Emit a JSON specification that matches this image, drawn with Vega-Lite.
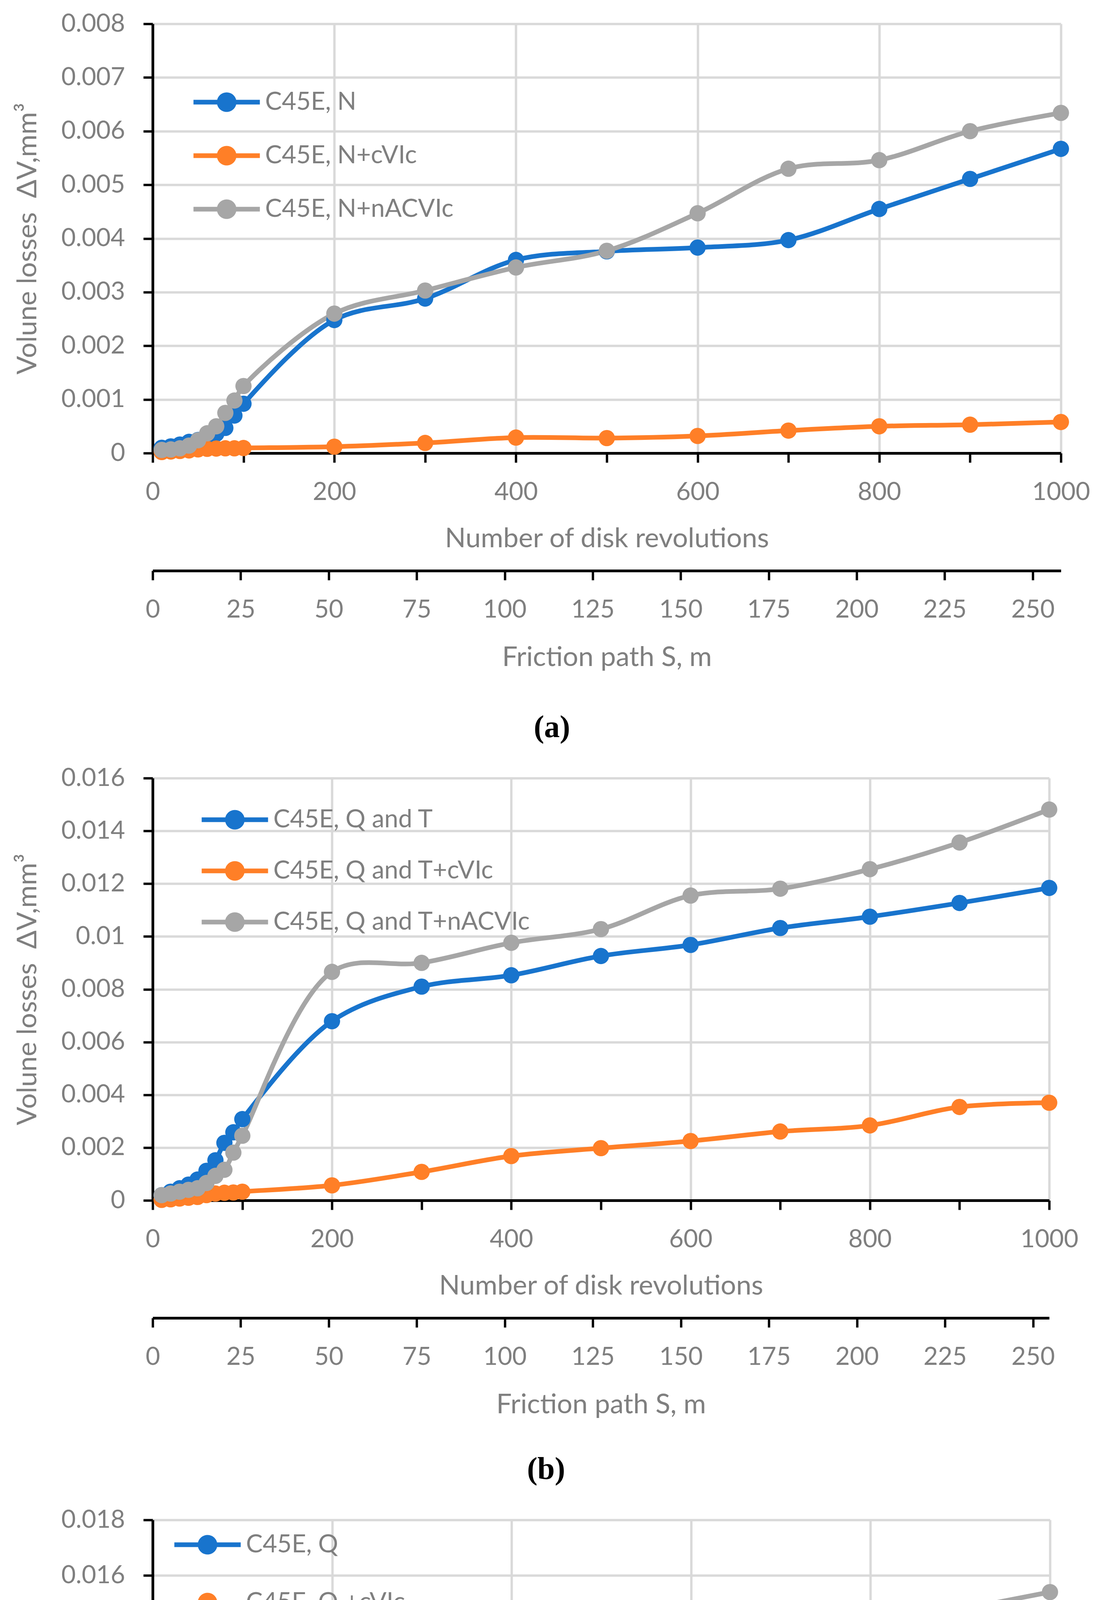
{
  "$schema": "https://vega.github.io/schema/vega-lite/v6.json",
  "background": "white",
  "padding": {"left": 36, "top": 29, "right": 0, "bottom": 0},
  "spacing": 57,
  "datasets": {
    "a": [
      {"n": 10, "v": 0.0001, "s": "C45E, N"}, {"n": 20, "v": 0.000125, "s": "C45E, N"}, {"n": 30, "v": 0.00016, "s": "C45E, N"}, {"n": 40, "v": 0.00021, "s": "C45E, N"}, {"n": 50, "v": 0.000245, "s": "C45E, N"}, {"n": 60, "v": 0.00029, "s": "C45E, N"}, {"n": 70, "v": 0.00036, "s": "C45E, N"}, {"n": 80, "v": 0.00047, "s": "C45E, N"}, {"n": 90, "v": 0.0007, "s": "C45E, N"}, {"n": 100, "v": 0.00092, "s": "C45E, N"}, {"n": 200, "v": 0.00248, "s": "C45E, N"}, {"n": 300, "v": 0.00288, "s": "C45E, N"}, {"n": 400, "v": 0.0036, "s": "C45E, N"}, {"n": 500, "v": 0.00376, "s": "C45E, N"}, {"n": 600, "v": 0.00383, "s": "C45E, N"}, {"n": 700, "v": 0.00397, "s": "C45E, N"}, {"n": 800, "v": 0.00455, "s": "C45E, N"}, {"n": 900, "v": 0.00511, "s": "C45E, N"}, {"n": 1000, "v": 0.00567, "s": "C45E, N"},
      {"n": 10, "v": 0.00002, "s": "C45E, N+cVIc"}, {"n": 20, "v": 0.00003, "s": "C45E, N+cVIc"}, {"n": 30, "v": 0.00004, "s": "C45E, N+cVIc"}, {"n": 40, "v": 0.00005, "s": "C45E, N+cVIc"}, {"n": 50, "v": 0.00007, "s": "C45E, N+cVIc"}, {"n": 60, "v": 0.00008, "s": "C45E, N+cVIc"}, {"n": 70, "v": 0.000085, "s": "C45E, N+cVIc"}, {"n": 80, "v": 0.00009, "s": "C45E, N+cVIc"}, {"n": 90, "v": 0.00009, "s": "C45E, N+cVIc"}, {"n": 100, "v": 0.000095, "s": "C45E, N+cVIc"}, {"n": 200, "v": 0.00012, "s": "C45E, N+cVIc"}, {"n": 300, "v": 0.00019, "s": "C45E, N+cVIc"}, {"n": 400, "v": 0.00029, "s": "C45E, N+cVIc"}, {"n": 500, "v": 0.00028, "s": "C45E, N+cVIc"}, {"n": 600, "v": 0.00032, "s": "C45E, N+cVIc"}, {"n": 700, "v": 0.00042, "s": "C45E, N+cVIc"}, {"n": 800, "v": 0.0005, "s": "C45E, N+cVIc"}, {"n": 900, "v": 0.00053, "s": "C45E, N+cVIc"}, {"n": 1000, "v": 0.00058, "s": "C45E, N+cVIc"},
      {"n": 10, "v": 0.00006, "s": "C45E, N+nACVIc"}, {"n": 20, "v": 0.00007, "s": "C45E, N+nACVIc"}, {"n": 30, "v": 0.00009, "s": "C45E, N+nACVIc"}, {"n": 40, "v": 0.00014, "s": "C45E, N+nACVIc"}, {"n": 50, "v": 0.00024, "s": "C45E, N+nACVIc"}, {"n": 60, "v": 0.00037, "s": "C45E, N+nACVIc"}, {"n": 70, "v": 0.0005, "s": "C45E, N+nACVIc"}, {"n": 80, "v": 0.00075, "s": "C45E, N+nACVIc"}, {"n": 90, "v": 0.00098, "s": "C45E, N+nACVIc"}, {"n": 100, "v": 0.00125, "s": "C45E, N+nACVIc"}, {"n": 200, "v": 0.0026, "s": "C45E, N+nACVIc"}, {"n": 300, "v": 0.00303, "s": "C45E, N+nACVIc"}, {"n": 400, "v": 0.00346, "s": "C45E, N+nACVIc"}, {"n": 500, "v": 0.00377, "s": "C45E, N+nACVIc"}, {"n": 600, "v": 0.00447, "s": "C45E, N+nACVIc"}, {"n": 700, "v": 0.0053, "s": "C45E, N+nACVIc"}, {"n": 800, "v": 0.00546, "s": "C45E, N+nACVIc"}, {"n": 900, "v": 0.006, "s": "C45E, N+nACVIc"}, {"n": 1000, "v": 0.00634, "s": "C45E, N+nACVIc"}
    ],
    "b": [
      {"n": 10, "v": 0.0002, "s": "C45E, Q and T"}, {"n": 20, "v": 0.00033, "s": "C45E, Q and T"}, {"n": 30, "v": 0.00046, "s": "C45E, Q and T"}, {"n": 40, "v": 0.0006, "s": "C45E, Q and T"}, {"n": 50, "v": 0.00079, "s": "C45E, Q and T"}, {"n": 60, "v": 0.00112, "s": "C45E, Q and T"}, {"n": 70, "v": 0.00152, "s": "C45E, Q and T"}, {"n": 80, "v": 0.00218, "s": "C45E, Q and T"}, {"n": 90, "v": 0.00258, "s": "C45E, Q and T"}, {"n": 100, "v": 0.00308, "s": "C45E, Q and T"}, {"n": 200, "v": 0.00679, "s": "C45E, Q and T"}, {"n": 300, "v": 0.0081, "s": "C45E, Q and T"}, {"n": 400, "v": 0.00853, "s": "C45E, Q and T"}, {"n": 500, "v": 0.00926, "s": "C45E, Q and T"}, {"n": 600, "v": 0.00968, "s": "C45E, Q and T"}, {"n": 700, "v": 0.01032, "s": "C45E, Q and T"}, {"n": 800, "v": 0.01075, "s": "C45E, Q and T"}, {"n": 900, "v": 0.01127, "s": "C45E, Q and T"}, {"n": 1000, "v": 0.01184, "s": "C45E, Q and T"},
      {"n": 10, "v": 0.00002, "s": "C45E, Q and T+cVIc"}, {"n": 20, "v": 0.00004, "s": "C45E, Q and T+cVIc"}, {"n": 30, "v": 0.00007, "s": "C45E, Q and T+cVIc"}, {"n": 40, "v": 0.0001, "s": "C45E, Q and T+cVIc"}, {"n": 50, "v": 0.00013, "s": "C45E, Q and T+cVIc"}, {"n": 60, "v": 0.0002, "s": "C45E, Q and T+cVIc"}, {"n": 70, "v": 0.00026, "s": "C45E, Q and T+cVIc"}, {"n": 80, "v": 0.00029, "s": "C45E, Q and T+cVIc"}, {"n": 90, "v": 0.0003, "s": "C45E, Q and T+cVIc"}, {"n": 100, "v": 0.00033, "s": "C45E, Q and T+cVIc"}, {"n": 200, "v": 0.00057, "s": "C45E, Q and T+cVIc"}, {"n": 300, "v": 0.00108, "s": "C45E, Q and T+cVIc"}, {"n": 400, "v": 0.00168, "s": "C45E, Q and T+cVIc"}, {"n": 500, "v": 0.00198, "s": "C45E, Q and T+cVIc"}, {"n": 600, "v": 0.00225, "s": "C45E, Q and T+cVIc"}, {"n": 700, "v": 0.00261, "s": "C45E, Q and T+cVIc"}, {"n": 800, "v": 0.00284, "s": "C45E, Q and T+cVIc"}, {"n": 900, "v": 0.00354, "s": "C45E, Q and T+cVIc"}, {"n": 1000, "v": 0.0037, "s": "C45E, Q and T+cVIc"},
      {"n": 10, "v": 0.0002, "s": "C45E, Q and T+nACVIc"}, {"n": 20, "v": 0.00026, "s": "C45E, Q and T+nACVIc"}, {"n": 30, "v": 0.00033, "s": "C45E, Q and T+nACVIc"}, {"n": 40, "v": 0.0004, "s": "C45E, Q and T+nACVIc"}, {"n": 50, "v": 0.00046, "s": "C45E, Q and T+nACVIc"}, {"n": 60, "v": 0.00066, "s": "C45E, Q and T+nACVIc"}, {"n": 70, "v": 0.00093, "s": "C45E, Q and T+nACVIc"}, {"n": 80, "v": 0.00116, "s": "C45E, Q and T+nACVIc"}, {"n": 90, "v": 0.00181, "s": "C45E, Q and T+nACVIc"}, {"n": 100, "v": 0.00245, "s": "C45E, Q and T+nACVIc"}, {"n": 200, "v": 0.00866, "s": "C45E, Q and T+nACVIc"}, {"n": 300, "v": 0.009, "s": "C45E, Q and T+nACVIc"}, {"n": 400, "v": 0.00976, "s": "C45E, Q and T+nACVIc"}, {"n": 500, "v": 0.01028, "s": "C45E, Q and T+nACVIc"}, {"n": 600, "v": 0.01155, "s": "C45E, Q and T+nACVIc"}, {"n": 700, "v": 0.01181, "s": "C45E, Q and T+nACVIc"}, {"n": 800, "v": 0.01255, "s": "C45E, Q and T+nACVIc"}, {"n": 900, "v": 0.01356, "s": "C45E, Q and T+nACVIc"}, {"n": 1000, "v": 0.01481, "s": "C45E, Q and T+nACVIc"}
    ],
    "c": [
      {"n": 10, "v": 0.00001, "s": "C45E, Q"}, {"n": 20, "v": 0.00001, "s": "C45E, Q"}, {"n": 30, "v": 0.000015, "s": "C45E, Q"}, {"n": 40, "v": 0.00002, "s": "C45E, Q"}, {"n": 50, "v": 0.00002, "s": "C45E, Q"}, {"n": 60, "v": 0.00002, "s": "C45E, Q"}, {"n": 70, "v": 0.000025, "s": "C45E, Q"}, {"n": 80, "v": 0.000025, "s": "C45E, Q"}, {"n": 90, "v": 0.00003, "s": "C45E, Q"}, {"n": 100, "v": 0.00003, "s": "C45E, Q"}, {"n": 200, "v": 0.00003, "s": "C45E, Q"}, {"n": 300, "v": 0.00005, "s": "C45E, Q"}, {"n": 400, "v": 0.00005, "s": "C45E, Q"}, {"n": 500, "v": 0.00006, "s": "C45E, Q"}, {"n": 600, "v": 0.00007, "s": "C45E, Q"}, {"n": 700, "v": 0.00008, "s": "C45E, Q"}, {"n": 800, "v": 0.00009, "s": "C45E, Q"}, {"n": 900, "v": 0.0001, "s": "C45E, Q"}, {"n": 1000, "v": 0.00012, "s": "C45E, Q"},
      {"n": 10, "v": 0.00006, "s": "C45E, Q +cVIc"}, {"n": 20, "v": 0.00007, "s": "C45E, Q +cVIc"}, {"n": 30, "v": 0.00008, "s": "C45E, Q +cVIc"}, {"n": 40, "v": 0.0001, "s": "C45E, Q +cVIc"}, {"n": 50, "v": 0.00013, "s": "C45E, Q +cVIc"}, {"n": 60, "v": 0.00017, "s": "C45E, Q +cVIc"}, {"n": 70, "v": 0.00021, "s": "C45E, Q +cVIc"}, {"n": 80, "v": 0.00023, "s": "C45E, Q +cVIc"}, {"n": 90, "v": 0.00024, "s": "C45E, Q +cVIc"}, {"n": 100, "v": 0.00027, "s": "C45E, Q +cVIc"}, {"n": 200, "v": 0.00052, "s": "C45E, Q +cVIc"}, {"n": 300, "v": 0.00085, "s": "C45E, Q +cVIc"}, {"n": 400, "v": 0.0011, "s": "C45E, Q +cVIc"}, {"n": 500, "v": 0.0013, "s": "C45E, Q +cVIc"}, {"n": 600, "v": 0.00183, "s": "C45E, Q +cVIc"}, {"n": 700, "v": 0.00195, "s": "C45E, Q +cVIc"}, {"n": 800, "v": 0.00205, "s": "C45E, Q +cVIc"}, {"n": 900, "v": 0.00225, "s": "C45E, Q +cVIc"}, {"n": 1000, "v": 0.00265, "s": "C45E, Q +cVIc"},
      {"n": 10, "v": 0.00008, "s": "C45E, Q +nACVIc"}, {"n": 20, "v": 0.0001, "s": "C45E, Q +nACVIc"}, {"n": 30, "v": 0.00015, "s": "C45E, Q +nACVIc"}, {"n": 40, "v": 0.00022, "s": "C45E, Q +nACVIc"}, {"n": 50, "v": 0.00031, "s": "C45E, Q +nACVIc"}, {"n": 60, "v": 0.00055, "s": "C45E, Q +nACVIc"}, {"n": 70, "v": 0.00083, "s": "C45E, Q +nACVIc"}, {"n": 80, "v": 0.00119, "s": "C45E, Q +nACVIc"}, {"n": 90, "v": 0.00203, "s": "C45E, Q +nACVIc"}, {"n": 100, "v": 0.00262, "s": "C45E, Q +nACVIc"}, {"n": 200, "v": 0.00964, "s": "C45E, Q +nACVIc"}, {"n": 300, "v": 0.01166, "s": "C45E, Q +nACVIc"}, {"n": 400, "v": 0.01197, "s": "C45E, Q +nACVIc"}, {"n": 500, "v": 0.01241, "s": "C45E, Q +nACVIc"}, {"n": 600, "v": 0.01338, "s": "C45E, Q +nACVIc"}, {"n": 700, "v": 0.01346, "s": "C45E, Q +nACVIc"}, {"n": 800, "v": 0.01421, "s": "C45E, Q +nACVIc"}, {"n": 900, "v": 0.01478, "s": "C45E, Q +nACVIc"}, {"n": 1000, "v": 0.0154, "s": "C45E, Q +nACVIc"}
    ]
  },
  "vconcat": [
    {
      "width": 2326,
      "height": 1099,
      "title": {"text": "(a)", "offset": 106},
      "layer": [
        {
          "data": {"name": "a"},
          "encoding": {
            "x": {"field": "n", "type": "quantitative", "scale": {"domain": [0, 1000], "nice": false},
              "axis": {"title": "Number of disk revolutions", "values": [0, 100, 200, 300, 400, 500, 600, 700, 800, 900, 1000], "format": "d",
                "labelExpr": "datum.value % 200 === 0 ? datum.label : ''",
                "gridOpacity": {"condition": {"test": "datum.value % 200 === 0", "value": 1}, "value": 0},
                "titlePadding": 53}},
            "y": {"field": "v", "type": "quantitative", "scale": {"domain": [0, 0.008], "nice": false},
              "axis": {"title": "Volune losses\u00a0 ΔV,mm³", "values": [0, 0.001, 0.002, 0.003, 0.004, 0.005, 0.006, 0.007, 0.008], "format": "~g"}},
            "color": {"field": "s", "type": "nominal", "sort": null,
              "scale": {"domain": ["C45E, N", "C45E, N+cVIc", "C45E, N+nACVIc"], "range": ["#1874cd", "#ff7f27", "#a6a6a6"]},
              "legend": {"title": null, "orient": "none", "legendX": 147, "legendY": 158, "rowPadding": 62}}
          },
          "layer": [
            {"mark": {"type": "line", "interpolate": "catmull-rom", "strokeWidth": 12}},
            {"mark": {"type": "point", "filled": true, "size": 1735, "opacity": 1}}
          ]
        },
        {
          "data": {"values": [{"S": 0}]},
          "mark": {"type": "point", "opacity": 0},
          "encoding": {
            "x": {"field": "S", "type": "quantitative", "scale": {"domain": [0, 258], "nice": false},
              "axis": {"orient": "bottom", "offset": 301, "grid": false, "title": "Friction path S, m",
                "values": [0, 25, 50, 75, 100, 125, 150, 175, 200, 225, 250], "format": "d", "titlePadding": 56}}
          }
        }
      ],
      "resolve": {"scale": {"x": "independent"}, "axis": {"x": "independent"}}
    },
    {
      "width": 2296,
      "height": 1081,
      "title": {"text": "(b)", "offset": 92},
      "layer": [
        {
          "data": {"name": "b"},
          "encoding": {
            "x": {"field": "n", "type": "quantitative", "scale": {"domain": [0, 1000], "nice": false},
              "axis": {"title": "Number of disk revolutions", "values": [0, 100, 200, 300, 400, 500, 600, 700, 800, 900, 1000], "format": "d",
                "labelExpr": "datum.value % 200 === 0 ? datum.label : ''",
                "gridOpacity": {"condition": {"test": "datum.value % 200 === 0", "value": 1}, "value": 0},
                "titlePadding": 53}},
            "y": {"field": "v", "type": "quantitative", "scale": {"domain": [0, 0.016], "nice": false},
              "axis": {"title": "Volune losses\u00a0 ΔV,mm³", "values": [0, 0.002, 0.004, 0.006, 0.008, 0.01, 0.012, 0.014, 0.016], "format": "~g"}},
            "color": {"field": "s", "type": "nominal", "sort": null,
              "scale": {"domain": ["C45E, Q and T", "C45E, Q and T+cVIc", "C45E, Q and T+nACVIc"], "range": ["#1874cd", "#ff7f27", "#a6a6a6"]},
              "legend": {"title": null, "orient": "none", "legendX": 168, "legendY": 64, "rowPadding": 56}}
          },
          "layer": [
            {"mark": {"type": "line", "interpolate": "catmull-rom", "strokeWidth": 12}},
            {"mark": {"type": "point", "filled": true, "size": 1735, "opacity": 1}}
          ]
        },
        {
          "data": {"values": [{"S": 0}]},
          "mark": {"type": "point", "opacity": 0},
          "encoding": {
            "x": {"field": "S", "type": "quantitative", "scale": {"domain": [0, 254.6], "nice": false},
              "axis": {"orient": "bottom", "offset": 301, "grid": false, "title": "Friction path S, m",
                "values": [0, 25, 50, 75, 100, 125, 150, 175, 200, 225, 250], "format": "d", "titlePadding": 56}}
          }
        }
      ],
      "resolve": {"scale": {"x": "independent"}, "axis": {"x": "independent"}}
    },
    {
      "width": 2298,
      "height": 1279,
      "title": {"text": "(c)", "offset": 106},
      "layer": [
        {
          "data": {"name": "c"},
          "encoding": {
            "x": {"field": "n", "type": "quantitative", "scale": {"domain": [0, 1000], "nice": false},
              "axis": {"title": "Number of disk revolutions", "values": [0, 100, 200, 300, 400, 500, 600, 700, 800, 900, 1000], "format": "d",
                "labelExpr": "datum.value % 200 === 0 ? datum.label : ''",
                "gridOpacity": {"condition": {"test": "datum.value % 200 === 0", "value": 1}, "value": 0},
                "titlePadding": 9}},
            "y": {"field": "v", "type": "quantitative", "scale": {"domain": [0, 0.018], "nice": false},
              "axis": {"title": "Volune losses\u00a0 ΔV,mm³", "values": [0, 0.002, 0.004, 0.006, 0.008, 0.01, 0.012, 0.014, 0.016, 0.018], "format": "~g"}},
            "color": {"field": "s", "type": "nominal", "sort": null,
              "scale": {"domain": ["C45E, Q", "C45E, Q +cVIc", "C45E, Q +nACVIc"], "range": ["#1874cd", "#ff7f27", "#a6a6a6"]},
              "legend": {"title": null, "orient": "none", "legendX": 98, "legendY": 21, "rowPadding": 73}}
          },
          "layer": [
            {"mark": {"type": "line", "interpolate": "catmull-rom", "strokeWidth": 12}},
            {"mark": {"type": "point", "filled": true, "size": 1735, "opacity": 1}}
          ]
        },
        {
          "data": {"values": [{"S": 0}]},
          "mark": {"type": "point", "opacity": 0},
          "encoding": {
            "x": {"field": "S", "type": "quantitative", "scale": {"domain": [0, 254.8], "nice": false},
              "axis": {"orient": "bottom", "offset": 246, "grid": false, "title": "Friction path S, m",
                "values": [0, 25, 50, 75, 100, 125, 150, 175, 200, 225, 250], "format": "d", "titlePadding": 56}}
          }
        }
      ],
      "resolve": {"scale": {"x": "independent"}, "axis": {"x": "independent"}}
    }
  ],
  "resolve": {"scale": {"color": "independent"}},
  "config": {
    "font": "Lato",
    "view": {"stroke": null},
    "axis": {
      "labelFont": "Lato", "labelFontSize": 64, "labelColor": "#7f7f7f", "labelPadding": 44,
      "titleFont": "Lato", "titleFontSize": 70, "titleFontWeight": "normal", "titleColor": "#7f7f7f",
      "domainColor": "black", "domainWidth": 7, "tickColor": "black", "tickWidth": 6, "tickSize": 24,
      "gridColor": "#d9d9d9", "gridWidth": 6, "labelFlush": false, "labelOverlap": false
    },
    "axisY": {"labelPadding": 47, "titlePadding": 84},
    "legend": {
      "symbolType": "M-2,-0.14H2V0.14H-2Z M-0.59,0A0.59,0.59 0 1,1 0.59,0A0.59,0.59 0 1,1 -0.59,0Z",
      "symbolSize": 7225, "symbolStrokeWidth": 0, "symbolOpacity": 1,
      "labelFont": "Lato", "labelFontSize": 64, "labelColor": "#7f7f7f", "labelOffset": 56, "labelLimit": 2000,
      "padding": 0
    },
    "title": {"orient": "bottom", "font": "Liberation Serif", "fontSize": 80, "fontWeight": "bold", "color": "black", "anchor": "middle", "frame": "bounds"}
  }
}
